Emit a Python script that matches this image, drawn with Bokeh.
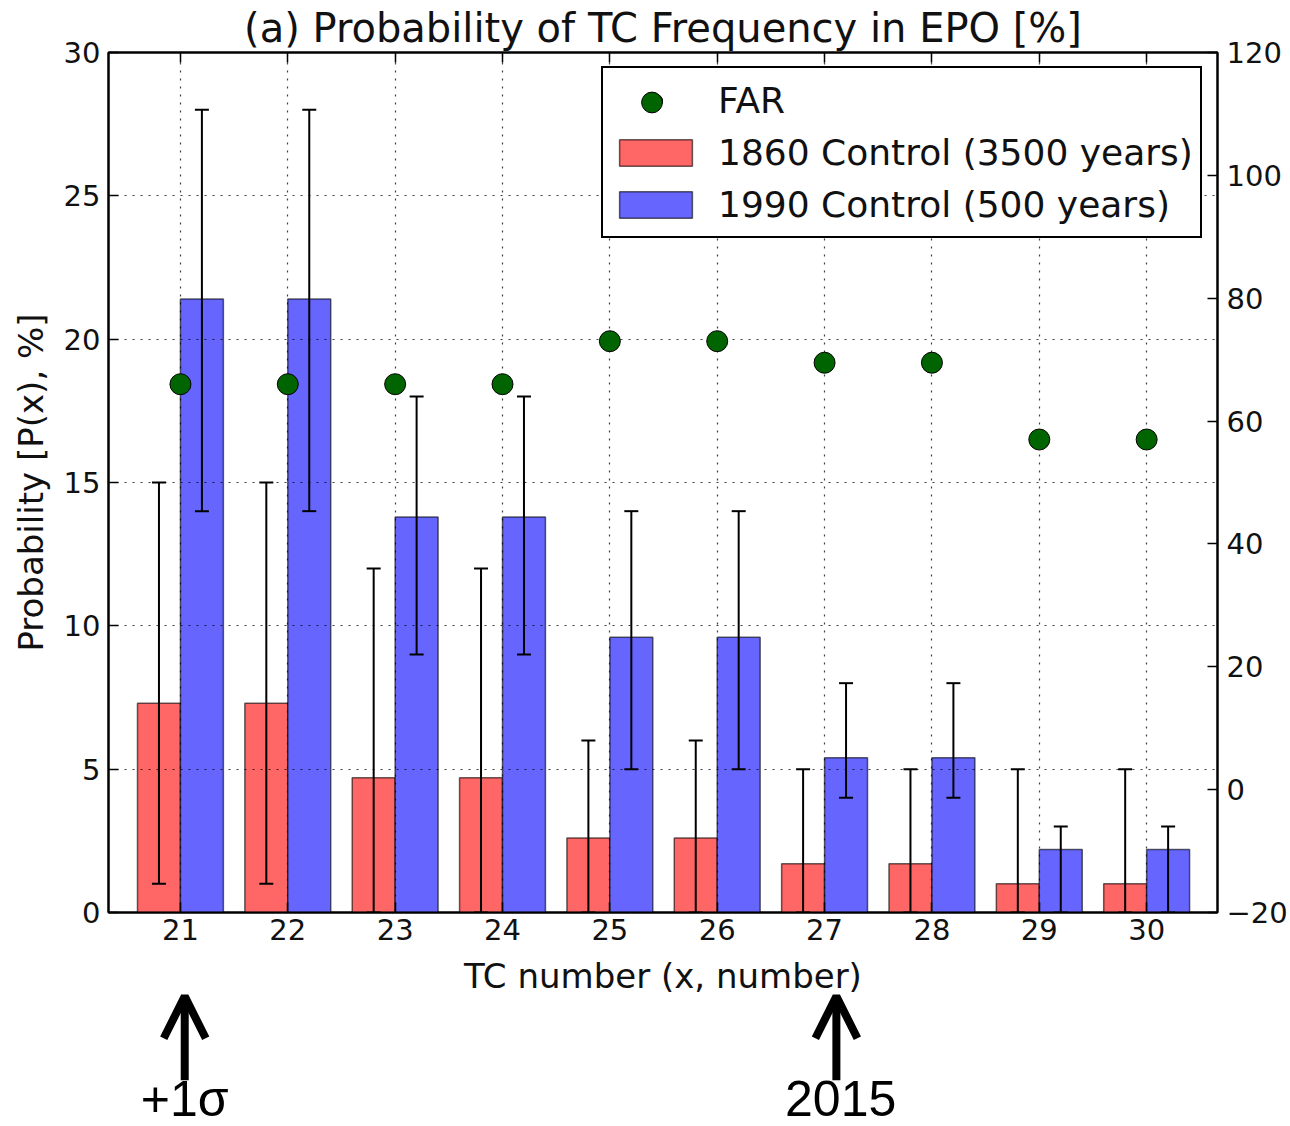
from bokeh.plotting import figure
from bokeh.layouts import column
from bokeh.models import (ColumnDataSource, Range1d, LinearAxis, FixedTicker, Whisker, TeeHead,
                          Legend, LegendItem, Arrow, OpenHead, Label, CustomJSTickFormatter)
from bokeh.embed import file_html
from bokeh.resources import INLINE

# ---------------- data ----------------
tc_numbers = [21, 22, 23, 24, 25, 26, 27, 28, 29, 30]
p1860 = [7.3, 7.3, 4.7, 4.7, 2.6, 2.6, 1.7, 1.7, 1.0, 1.0]
p1860_lo = [1, 1, 0, 0, 0, 0, 0, 0, 0, 0]
p1860_hi = [15, 15, 12, 12, 6, 6, 5, 5, 5, 5]
p1990 = [21.4, 21.4, 13.8, 13.8, 9.6, 9.6, 5.4, 5.4, 2.2, 2.2]
p1990_lo = [14, 14, 9, 9, 5, 5, 4, 4, 0, 0]
p1990_hi = [28, 28, 18, 18, 14, 14, 8, 8, 3, 3]
far = [66, 66, 66, 66, 73, 73, 69.5, 69.5, 57, 57]
left_ticks = [0, 5, 10, 15, 20, 25, 30]
right_ticks = [-20, 0, 20, 40, 60, 80, 100, 120]
marker_x = [21.04, 27.11]
marker_label_x = [21.04, 27.15]
marker_text = ["+1\u03c3", "2015"]

BAR_W = 0.4
src = ColumnDataSource(dict(
    tc=tc_numbers,
    x_red=[t - BAR_W / 2 for t in tc_numbers],
    x_blue=[t + BAR_W / 2 for t in tc_numbers],
    p1860=p1860, p1860_lo=p1860_lo, p1860_hi=p1860_hi,
    p1990=p1990, p1990_lo=p1990_lo, p1990_hi=p1990_hi,
    far=far,
))

FONT = "DejaVu Sans"
W = 1290
H1 = 952
H2 = 1126 - H1

xr = Range1d(20.33, 30.66)
p = figure(width=W, height=H1, output_backend="svg", toolbar_location=None,
           x_range=xr, y_range=Range1d(0, 30),
           min_border_left=108, min_border_right=73, min_border_top=52, min_border_bottom=H1 - 912,
           title="(a) Probability of TC Frequency in EPO [%]")
p.extra_y_ranges = {"far": Range1d(-20, 120)}

p.title.text_font = FONT
p.title.text_font_size = "40px"
p.title.text_font_style = "normal"
p.title.text_color = "#111111"
p.title.align = "center"
p.title.standoff = 4

p.outline_line_color = "black"
p.outline_line_width = 2

# bars
r_red = p.vbar(x="x_red", top="p1860", width=BAR_W, bottom=0, source=src,
               fill_color="#ff6666", line_color="black", line_alpha=0.6, line_width=1.5)
r_blue = p.vbar(x="x_blue", top="p1990", width=BAR_W, bottom=0, source=src,
                fill_color="#6666ff", line_color="black", line_alpha=0.6, line_width=1.5)

# error bars
for xcol, lo, hi in [("x_red", "p1860_lo", "p1860_hi"), ("x_blue", "p1990_lo", "p1990_hi")]:
    w = Whisker(base=xcol, lower=lo, upper=hi, source=src, dimension="height",
                line_color="black", line_width=2,
                upper_head=TeeHead(size=14, line_width=2, line_color="black"),
                lower_head=TeeHead(size=14, line_width=2, line_color="black"))
    w.level = "annotation"
    p.add_layout(w)

# FAR points on right axis
r_far = p.scatter(x="tc", y="far", source=src, y_range_name="far", size=21,
                  fill_color="#006400", line_color="black", line_width=1)
r_far.level = "overlay"


def style_axis(ax, tick_in=10):
    ax.axis_line_color = "black"
    ax.axis_line_width = 2
    ax.major_tick_in = tick_in
    ax.major_tick_out = 0
    ax.major_tick_line_width = 1.5
    ax.minor_tick_line_color = None
    ax.major_label_text_font = FONT
    ax.major_label_text_font_size = "29px"
    ax.major_label_text_color = "#111111"
    ax.axis_label_text_font = FONT
    ax.axis_label_text_font_size = "34px"
    ax.axis_label_text_font_style = "normal"
    ax.axis_label_text_color = "#111111"


xax = p.xaxis[0]
xax.ticker = FixedTicker(ticks=tc_numbers)
xax.major_label_standoff = 6
style_axis(xax)

yax = p.yaxis[0]
yax.ticker = FixedTicker(ticks=left_ticks)
yax.axis_label = "Probability [P(x), %]"
yax.major_label_standoff = 8
yax.axis_label_standoff = 10
style_axis(yax)

rax = LinearAxis(y_range_name="far", ticker=FixedTicker(ticks=right_ticks),
                 formatter=CustomJSTickFormatter(
                     code="return tick < 0 ? '\u2212' + Math.abs(tick) : String(tick);"))
rax.major_label_standoff = 9
style_axis(rax)
p.add_layout(rax, "right")

tax = LinearAxis(ticker=FixedTicker(ticks=tc_numbers))
style_axis(tax)
tax.major_label_overrides = {t: "" for t in tc_numbers}
tax.major_label_text_font_size = "1px"
tax.major_label_standoff = 0
p.add_layout(tax, "above")

# grid (dotted, above bars)
p.xgrid[0].ticker = FixedTicker(ticks=tc_numbers)
p.ygrid[0].ticker = FixedTicker(ticks=left_ticks)
for g in (p.xgrid[0], p.ygrid[0]):
    g.grid_line_color = "black"
    g.grid_line_alpha = 0.75
    g.grid_line_width = 1.2
    g.grid_line_dash = "2 6"
    g.level = "annotation"

# legend (box + labels)
legend = Legend(items=[
    LegendItem(label="FAR", renderers=[r_far]),
    LegendItem(label="1860 Control (3500 years)", renderers=[r_red]),
    LegendItem(label="1990 Control (500 years)", renderers=[r_blue]),
], location=(493, 674))
legend.label_text_font = FONT
legend.label_text_font_size = "36px"
legend.label_text_color = "#111111"
legend.glyph_width = 91
legend.glyph_height = 33
legend.label_height = 50
legend.label_standoff = 17
legend.spacing = 2
legend.padding = 7
legend.margin = 0
legend.border_line_color = "black"
legend.border_line_alpha = 1
legend.border_line_width = 2
legend.background_fill_color = "white"
legend.background_fill_alpha = 1
legend.level = "overlay"
p.add_layout(legend, "center")

# larger FAR marker drawn over the first legend row
legend_marker = Legend(items=[LegendItem(label=" ", renderers=[r_far])], location=(498, 784))
legend_marker.glyph_width = 91
legend_marker.glyph_height = 52
legend_marker.label_height = 52
legend_marker.label_standoff = 0
legend_marker.label_text_font_size = "10px"
legend_marker.padding = 0
legend_marker.margin = 0
legend_marker.spacing = 0
legend_marker.border_line_color = None
legend_marker.background_fill_alpha = 0
legend_marker.level = "overlay"
p.add_layout(legend_marker, "center")

# ---------- lower strip: x-axis title, arrows and markers ----------
q = figure(width=W, height=H2, output_backend="svg", toolbar_location=None,
           x_range=xr, y_range=Range1d(0, 141),
           x_axis_location=None, y_axis_location=None,
           min_border_left=108, min_border_right=73, min_border_top=0, min_border_bottom=0)
q.outline_line_color = None
q.xgrid.visible = False
q.ygrid.visible = False

lab_ax = LinearAxis(ticker=FixedTicker(ticks=[]))
lab_ax.axis_label = "TC number (x, number)"
lab_ax.axis_line_color = None
lab_ax.major_tick_line_color = None
lab_ax.minor_tick_line_color = None
lab_ax.major_tick_out = 0
lab_ax.major_tick_in = 0
lab_ax.axis_label_standoff = -5
lab_ax.axis_label_text_font = FONT
lab_ax.axis_label_text_font_size = "34px"
lab_ax.axis_label_text_font_style = "normal"
lab_ax.axis_label_text_color = "#111111"
q.add_layout(lab_ax, "above")

for xm, xl, txt in zip(marker_x, marker_label_x, marker_text):
    arr = Arrow(x_start=xm, y_start=48, x_end=xm, y_end=135,
                line_width=8, line_color="black",
                end=OpenHead(size=42, line_width=8, line_color="black"))
    q.add_layout(arr)
    lab = Label(x=xl, y=29, text=txt, text_font="Liberation Sans", text_font_size="50px",
                text_align="center", text_baseline="middle", text_color="black")
    q.add_layout(lab)

layout = column(p, q, spacing=0)
open("out.html", "w").write(file_html(layout, INLINE))
